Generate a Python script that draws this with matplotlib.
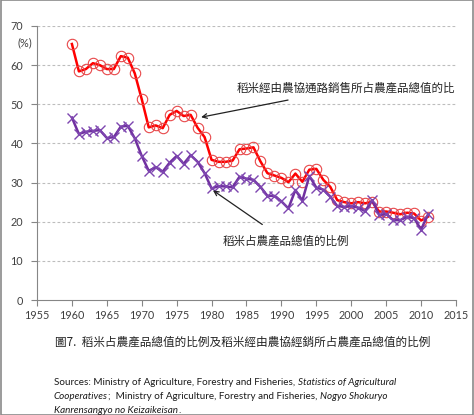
import matplotlib
matplotlib.use("Agg")
import matplotlib.pyplot as plt
from matplotlib.patches import Rectangle

years = list(range(1960, 2012))

# rice sold through agricultural cooperatives, % of total farm output value
coop_share = [65.4, 58.4, 59.0, 60.5, 60.0, 59.0, 59.0, 62.3, 61.9, 57.9,
              51.3, 44.1, 44.6, 43.9, 47.3, 48.3, 47.0, 47.3, 44.0, 41.6,
              35.8, 35.3, 35.3, 35.6, 38.5, 38.7, 39.0, 35.4, 32.4, 31.8,
              31.2, 30.1, 32.3, 30.2, 33.3, 33.5, 30.7, 28.9, 25.5, 25.0,
              24.7, 25.0, 24.7, 25.1, 22.6, 22.6, 22.3, 21.9, 22.3, 22.1,
              20.3, 21.3]

# rice, % of total farm output value
rice_share = [46.6, 42.4, 43.0, 43.2, 43.4, 41.4, 41.6, 44.3, 44.5, 41.3,
              36.8, 33.0, 33.9, 32.8, 35.1, 36.8, 34.8, 37.0, 35.3, 32.4,
              28.5, 29.1, 29.0, 28.8, 31.5, 31.0, 30.7, 28.9, 26.6, 26.6,
              25.2, 23.4, 28.1, 25.4, 31.7, 28.7, 28.2, 26.4, 24.0, 23.8,
              24.0, 23.6, 22.7, 25.5, 21.7, 22.0, 20.4, 20.4, 21.3, 20.9,
              18.0, 21.9]

x_ticks = list(range(1955, 2016, 5))
y_ticks = list(range(0, 71, 10))

label_coop = "稻米經由農協通路銷售所占農產品總值的比"
label_rice = "稻米占農產品總值的比例"
caption = "圖7.  稻米占農產品總值的比例及稻米經由農協經銷所占農產品總值的比例"

cjk = ["Noto Sans CJK TC", "DejaVu Sans"]
latin = "Lato"
axis_grey = "#868686"
text_grey = "#404040"

fig = plt.figure(figsize=(4.74, 4.15), dpi=100)
ax = fig.add_axes([37 / 474, 115 / 415, 419 / 474, 274 / 415])

ax.plot(years, coop_share, color="#FF0000", lw=1.8, marker="o", ms=7.5,
        mfc="none", mec="#E8484A", mew=0.8, zorder=3)
ax.plot(years, rice_share, color="#7030A0", lw=1.8, marker="x", ms=6.5,
        mec="#7E46B0", mew=1.0, zorder=3)

ax.set_xlim(1955, 2015)
ax.set_ylim(0, 70)
ax.set_xticks(x_ticks)
ax.set_yticks(y_ticks)
ax.tick_params(axis="both", direction="out", length=4, width=0.8,
               colors=axis_grey, labelcolor=text_grey, labelsize=7.8)
ax.tick_params(axis="y", pad=6)
for lab in ax.get_xticklabels() + ax.get_yticklabels():
    lab.set_family(latin)

for y in y_ticks[1:]:
    ax.axhline(y, color="#BDBDBD", lw=0.8, ls=(0, (2.5, 2)), zorder=1)

for side in ["top", "right"]:
    ax.spines[side].set_visible(False)
for side in ["left", "bottom"]:
    ax.spines[side].set_color(axis_grey)
    ax.spines[side].set_linewidth(0.8)

fig.text(17 / 474, 1 - 43 / 415, "(%)", fontsize=7.8, family=latin,
         color=text_grey, va="center", ha="left")

ax.annotate(label_coop, xy=(1978.5, 46.7), xytext=(1983.6, 54.0),
            fontsize=8.3, family=cjk, color="#222222", va="center", ha="left",
            arrowprops=dict(arrowstyle="->", color="#222222", lw=0.9,
                            shrinkA=8, shrinkB=0))
ax.annotate(label_rice, xy=(1980.2, 28.0), xytext=(1981.6, 15.1),
            fontsize=8.3, family=cjk, color="#222222", va="center", ha="left",
            arrowprops=dict(arrowstyle="->", color="#222222", lw=0.9,
                            shrinkA=9, shrinkB=0))

fig.text(55 / 474, 1 - 342 / 415, caption, fontsize=8.4, family=cjk,
         color="#222222", va="center", ha="left")

# sources block, mixing upright and italic runs
src_lines = [
    [("Sources: Ministry of Agriculture, Forestry and Fisheries, ", "normal"),
     ("Statistics of Agricultural", "italic")],
    [("Cooperatives", "italic"),
     (";  Ministry of Agriculture, Forestry and Fisheries, ", "normal"),
     ("Nogyo Shokuryo", "italic")],
    [("Kanrensangyo no Keizaikeisan", "italic"), (".", "normal")],
]
src_y = [382, 396.5, 410]
renderer = fig.canvas.get_renderer()
for parts, ypix in zip(src_lines, src_y):
    xpix = 54
    for txt, style in parts:
        t = fig.text(xpix / 474, 1 - ypix / 415, txt, fontsize=7.1,
                     family=latin, style=style, color="#1a1a1a",
                     va="center", ha="left")
        xpix += t.get_window_extent(renderer).width

fig.patches.append(Rectangle((0.5 / 474, 0), 472 / 474, 414.5 / 415,
                             transform=fig.transFigure, fill=False,
                             edgecolor="#8a8a8a", lw=1.2))

fig.savefig("out.png", dpi=100)
